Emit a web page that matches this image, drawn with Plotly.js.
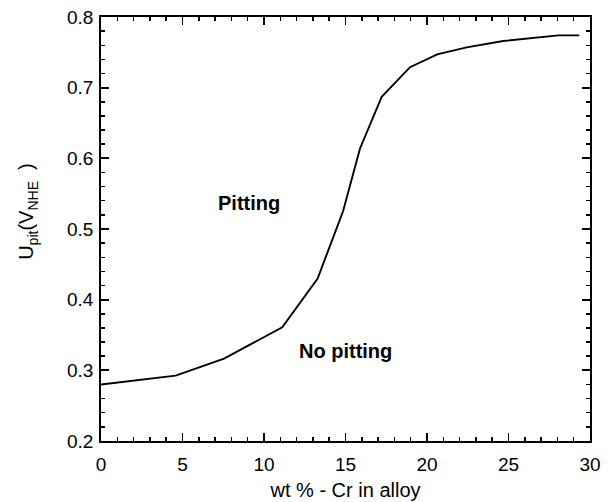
<!DOCTYPE html>
<html>
<head>
<meta charset="utf-8">
<script src="https://cdn.plot.ly/plotly-3.0.1.min.js"></script>
<style>html,body{margin:0;padding:0;background:#fff;}</style>
</head>
<body>
<div id="chart" style="width:611px;height:502px;"></div>
<script>
var crWt = [0, 4.58, 7.55, 11.12, 13.29, 14.85, 15.89, 17.22, 18.96, 20.63, 22.43, 24.68, 28.06, 29.34];
var uPit = [0.280, 0.2925, 0.3166, 0.361, 0.430, 0.525, 0.614, 0.687, 0.729, 0.747, 0.757, 0.766, 0.774, 0.774];
var regionLabels = ["Pitting", "No pitting"];
var regionX = [9.05, 14.97];
var regionY = [0.537, 0.327];
var xTitle = "wt % - Cr in alloy";
var yTitle = "U<sub>pit</sub>(V<sub>NHE</sub>  )";

var fontFam = "Liberation Sans, Arial, sans-serif";
var axisCommon = {
  showgrid: false, zeroline: false,
  showline: true, linecolor: "#000", linewidth: 1.8,
  mirror: "ticks", ticks: "inside", ticklen: 8, tickwidth: 1.8, tickcolor: "#000",
  tickfont: {family: fontFam, size: 19, color: "#000"}
};

var data = [{
  x: crWt, y: uPit, type: "scatter", mode: "lines",
  line: {color: "#000", width: 1.9}, hoverinfo: "skip", showlegend: false
}];

var annotations = regionLabels.map(function (t, i) {
  return {x: regionX[i], y: regionY[i], xref: "x", yref: "y", text: "<b>" + t + "</b>",
    showarrow: false, font: {family: fontFam, size: 20, color: "#000"}};
});
annotations.push({
  x: -0.15, y: 0.542, xref: "paper", yref: "paper", text: yTitle, textangle: -90,
  showarrow: false, xanchor: "center", yanchor: "middle",
  font: {family: fontFam, size: 20, color: "#000"}
});

var layout = {
  width: 611, height: 502,
  margin: {l: 101, r: 21, t: 17, b: 61},
  paper_bgcolor: "#fff", plot_bgcolor: "#fff",
  font: {family: fontFam, color: "#000"},
  xaxis: Object.assign({}, axisCommon, {
    range: [0, 30], dtick: 5, tick0: 0, ticklabelstandoff: 5,
    minor: {dtick: 1, ticks: "inside", ticklen: 4, tickwidth: 1.5, tickcolor: "#000"},
    title: {text: xTitle, font: {family: fontFam, size: 20, color: "#000"}, standoff: 9}
  }),
  yaxis: Object.assign({}, axisCommon, {
    range: [0.2, 0.8], dtick: 0.1, tick0: 0.2, tickformat: ".1f", ticklabelstandoff: 2,
    minor: {dtick: 0.02, ticks: "inside", ticklen: 4, tickwidth: 1.5, tickcolor: "#000"}
  }),
  annotations: annotations
};

Plotly.newPlot("chart", data, layout, {displayModeBar: false, staticPlot: true});
</script>
</body>
</html>
